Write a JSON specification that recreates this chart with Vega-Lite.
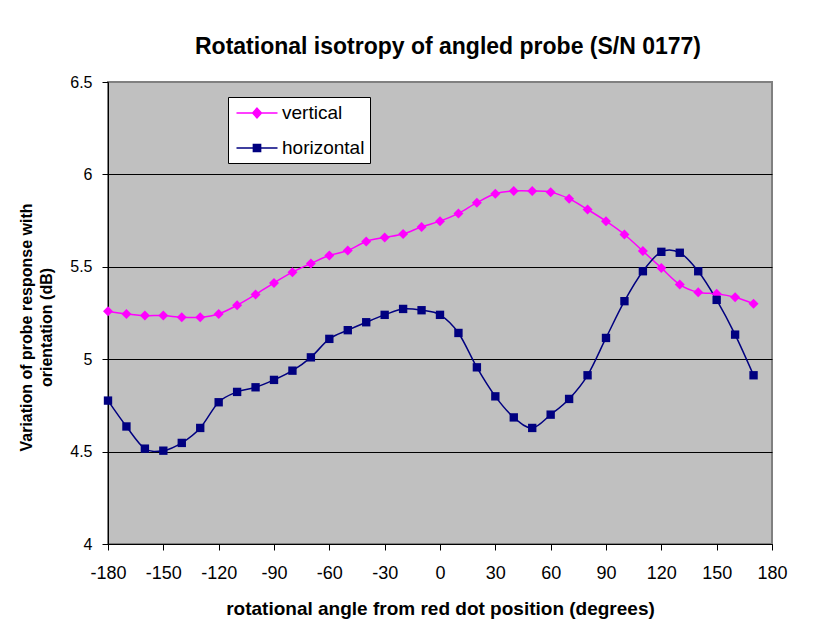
{
  "$schema": "https://vega.github.io/schema/vega-lite/v6.json",
  "width": 664,
  "height": 462,
  "autosize": {"type": "none"},
  "padding": {"left": 108, "top": 82, "right": 45, "bottom": 99},
  "background": "white",
  "title": {
    "text": "Rotational isotropy of angled probe (S/N 0177)",
    "font": "Liberation Sans",
    "fontSize": 23,
    "fontWeight": "bold",
    "color": "black",
    "anchor": "middle",
    "frame": "group",
    "offset": 15,
    "dx": 8
  },
  "config": {
    "view": {"fill": "#C0C0C0", "stroke": "#808080", "strokeWidth": 2},
    "axis": {
      "labelFont": "Liberation Sans",
      "titleFont": "Liberation Sans",
      "labelColor": "black",
      "titleColor": "black",
      "domainColor": "black",
      "tickColor": "black",
      "domainWidth": 1,
      "tickWidth": 1,
      "titleFontWeight": "bold"
    }
  },
  "data": {
    "values": [
      {"angle": -180, "series": "vertical", "value": 5.26},
      {"angle": -170, "series": "vertical", "value": 5.245},
      {"angle": -160, "series": "vertical", "value": 5.236},
      {"angle": -150, "series": "vertical", "value": 5.236},
      {"angle": -140, "series": "vertical", "value": 5.227},
      {"angle": -130, "series": "vertical", "value": 5.227},
      {"angle": -120, "series": "vertical", "value": 5.245},
      {"angle": -110, "series": "vertical", "value": 5.292},
      {"angle": -100, "series": "vertical", "value": 5.35},
      {"angle": -90, "series": "vertical", "value": 5.413},
      {"angle": -80, "series": "vertical", "value": 5.471},
      {"angle": -70, "series": "vertical", "value": 5.518},
      {"angle": -60, "series": "vertical", "value": 5.561},
      {"angle": -50, "series": "vertical", "value": 5.588},
      {"angle": -40, "series": "vertical", "value": 5.637},
      {"angle": -30, "series": "vertical", "value": 5.659},
      {"angle": -20, "series": "vertical", "value": 5.677},
      {"angle": -10, "series": "vertical", "value": 5.716},
      {"angle": 0, "series": "vertical", "value": 5.747},
      {"angle": 10, "series": "vertical", "value": 5.789},
      {"angle": 20, "series": "vertical", "value": 5.847},
      {"angle": 30, "series": "vertical", "value": 5.895},
      {"angle": 40, "series": "vertical", "value": 5.91},
      {"angle": 50, "series": "vertical", "value": 5.91},
      {"angle": 60, "series": "vertical", "value": 5.904},
      {"angle": 70, "series": "vertical", "value": 5.868},
      {"angle": 80, "series": "vertical", "value": 5.81},
      {"angle": 90, "series": "vertical", "value": 5.747},
      {"angle": 100, "series": "vertical", "value": 5.675},
      {"angle": 110, "series": "vertical", "value": 5.585},
      {"angle": 120, "series": "vertical", "value": 5.494},
      {"angle": 130, "series": "vertical", "value": 5.404},
      {"angle": 140, "series": "vertical", "value": 5.362},
      {"angle": 150, "series": "vertical", "value": 5.354},
      {"angle": 160, "series": "vertical", "value": 5.335},
      {"angle": 170, "series": "vertical", "value": 5.3},
      {"angle": -180, "series": "horizontal", "value": 4.776},
      {"angle": -170, "series": "horizontal", "value": 4.636},
      {"angle": -160, "series": "horizontal", "value": 4.516},
      {"angle": -150, "series": "horizontal", "value": 4.505},
      {"angle": -140, "series": "horizontal", "value": 4.547},
      {"angle": -130, "series": "horizontal", "value": 4.628},
      {"angle": -120, "series": "horizontal", "value": 4.767},
      {"angle": -110, "series": "horizontal", "value": 4.823},
      {"angle": -100, "series": "horizontal", "value": 4.848},
      {"angle": -90, "series": "horizontal", "value": 4.888},
      {"angle": -80, "series": "horizontal", "value": 4.938},
      {"angle": -70, "series": "horizontal", "value": 5.01},
      {"angle": -60, "series": "horizontal", "value": 5.11},
      {"angle": -50, "series": "horizontal", "value": 5.157},
      {"angle": -40, "series": "horizontal", "value": 5.2},
      {"angle": -30, "series": "horizontal", "value": 5.24},
      {"angle": -20, "series": "horizontal", "value": 5.272},
      {"angle": -10, "series": "horizontal", "value": 5.265},
      {"angle": 0, "series": "horizontal", "value": 5.24},
      {"angle": 10, "series": "horizontal", "value": 5.142},
      {"angle": 20, "series": "horizontal", "value": 4.956},
      {"angle": 30, "series": "horizontal", "value": 4.799},
      {"angle": 40, "series": "horizontal", "value": 4.685},
      {"angle": 50, "series": "horizontal", "value": 4.628},
      {"angle": 60, "series": "horizontal", "value": 4.7},
      {"angle": 70, "series": "horizontal", "value": 4.785},
      {"angle": 80, "series": "horizontal", "value": 4.913},
      {"angle": 90, "series": "horizontal", "value": 5.115},
      {"angle": 100, "series": "horizontal", "value": 5.314},
      {"angle": 110, "series": "horizontal", "value": 5.476},
      {"angle": 120, "series": "horizontal", "value": 5.581},
      {"angle": 130, "series": "horizontal", "value": 5.576},
      {"angle": 140, "series": "horizontal", "value": 5.476},
      {"angle": 150, "series": "horizontal", "value": 5.321},
      {"angle": 160, "series": "horizontal", "value": 5.133},
      {"angle": 170, "series": "horizontal", "value": 4.913}
    ]
  },
  "encoding": {
    "x": {
      "field": "angle",
      "type": "quantitative",
      "scale": {"domain": [-180, 180], "nice": false},
      "axis": {
        "values": [-180, -150, -120, -90, -60, -30, 0, 30, 60, 90, 120, 150, 180],
        "labelExpr": "'' + datum.value",
        "title": "rotational angle from red dot position (degrees)",
        "grid": false,
        "tickSize": 6,
        "labelFontSize": 18,
        "labelPadding": 14,
        "labelFlush": false,
        "labelOverlap": false,
        "titleFontSize": 19,
        "titleY": 70,
        "titleBaseline": "alphabetic"
      }
    },
    "y": {
      "field": "value",
      "type": "quantitative",
      "scale": {"domain": [4, 6.5], "nice": false, "zero": false},
      "axis": {
        "values": [4, 4.5, 5, 5.5, 6, 6.5],
        "format": "~g",
        "grid": true,
        "gridColor": {"condition": {"test": "datum.value === 6.5", "value": "#808080"}, "value": "black"},
        "gridWidth": 1,
        "gridOpacity": 1,
        "tickSize": 6,
        "labelFontSize": 16,
        "labelPadding": 10,
        "labelFlush": false,
        "title": ["Variation of probe response with", "orientation (dB)"],
        "titleFontSize": 16,
        "titleLineHeight": 20,
        "titleAngle": 270,
        "titleAlign": "center",
        "titleBaseline": "top",
        "titleX": -90,
        "titleY": 245
      }
    },
    "color": {
      "field": "series",
      "type": "nominal",
      "scale": {"domain": ["vertical", "horizontal"], "range": ["#FF00FF", "#000080"]},
      "legend": {
        "orient": "none",
        "legendX": 120,
        "legendY": 15,
        "title": null,
        "fillColor": "white",
        "strokeColor": "black",
        "padding": 5,
        "labelFont": "Liberation Sans",
        "labelFontSize": 19,
        "labelColor": "black",
        "labelOffset": 14,
        "symbolOffset": 13,
        "rowPadding": 14,
        "symbolSize": 400,
        "symbolStrokeWidth": 1.5,
        "encoding": {
          "symbols": {
            "shape": {"value": {"expr": "datum.value === 'vertical' ? 'M-2.05,0H2.05M0,-0.48L0.44,0L0,0.48L-0.44,0Z' : 'M-2.05,0H2.05M-0.36,-0.36H0.36V0.36H-0.36Z'"}},
            "fill": {"value": {"expr": "datum.value === 'vertical' ? '#FF00FF' : '#000080'"}},
            "stroke": {"value": {"expr": "datum.value === 'vertical' ? '#FF00FF' : '#000080'"}},
            "fillOpacity": {"value": 1},
            "strokeOpacity": {"value": 1}
          }
        }
      }
    }
  },
  "layer": [
    {
      "mark": {"type": "line", "interpolate": "cardinal", "strokeWidth": 1.5}
    },
    {
      "transform": [{"filter": "datum.series === 'vertical'"}],
      "mark": {"type": "point", "filled": true, "opacity": 1, "strokeWidth": 0, "shape": "diamond", "size": 100}
    },
    {
      "transform": [{"filter": "datum.series === 'horizontal'"}],
      "mark": {"type": "point", "filled": true, "opacity": 1, "strokeWidth": 0, "shape": "square", "size": 70}
    }
  ]
}
